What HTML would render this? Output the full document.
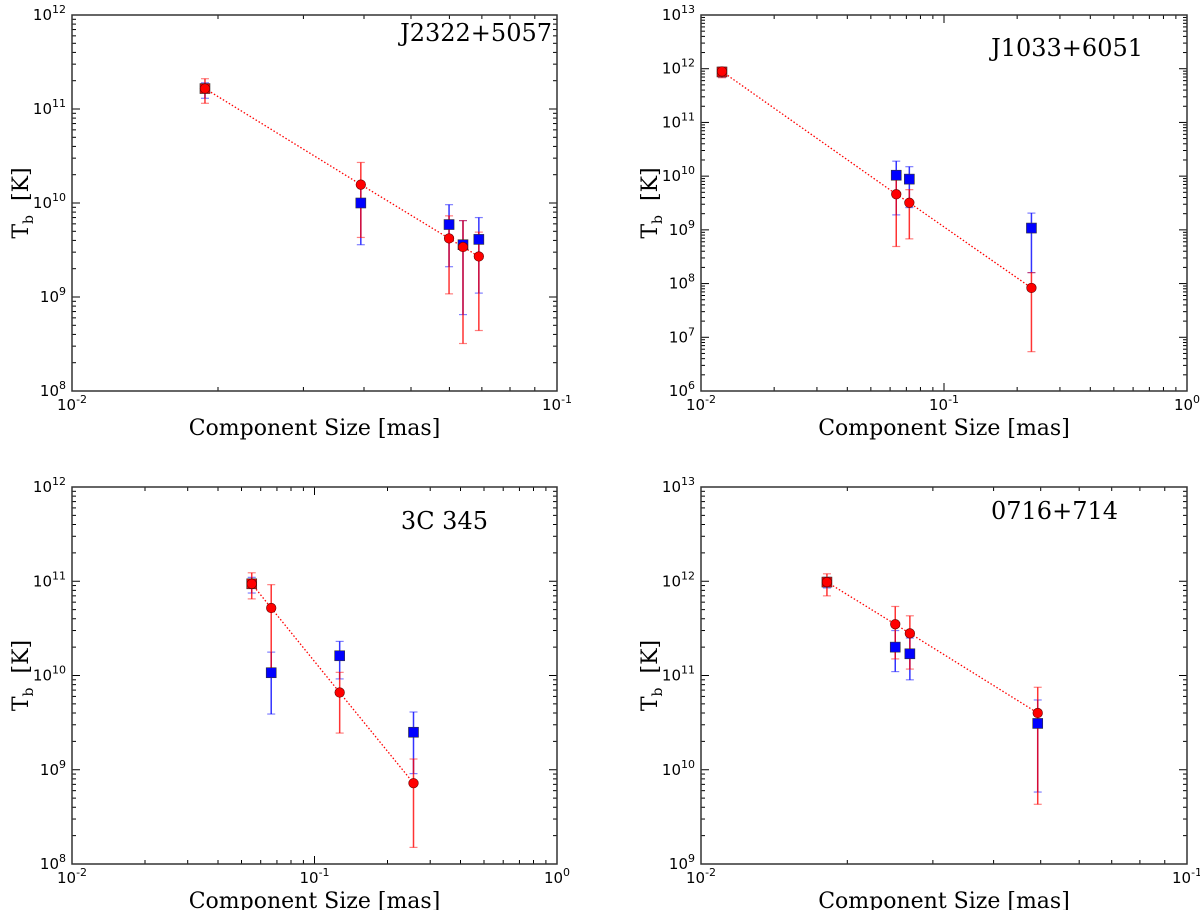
<!DOCTYPE html>
<html><head><meta charset="utf-8"><style>
html,body{margin:0;padding:0;background:#fff;}
svg{display:block;}
.tick{font-family:"DejaVu Sans","Liberation Sans",sans-serif;font-size:15px;fill:#000;}
.sup{font-size:11px;}
.title{font-family:"DejaVu Serif","Liberation Serif",serif;font-size:22px;fill:#000;}
.name{font-family:"DejaVu Serif","Liberation Serif",serif;font-size:24px;fill:#000;}
</style></head><body>
<svg id="fig" width="1200" height="910" viewBox="0 0 1200 910" xmlns="http://www.w3.org/2000/svg"></svg>
<script>
// ---- Panel data (x in mas, y in K) ----
const p1RedX = [0.0188, 0.0394, 0.0599, 0.064, 0.069];
const p1RedY = [1.65e11, 1.57e10, 4.2e9, 3.4e9, 2.7e9];
const p1RedHi = [2.1e11, 2.7e10, 7.3e9, 6.5e9, 4.9e9];
const p1RedLo = [1.15e11, 4.3e9, 1.08e9, 3.2e8, 4.4e8];
const p1BlueX = [0.0188, 0.0394, 0.0599, 0.064, 0.069];
const p1BlueY = [1.65e11, 1.0e10, 5.9e9, 3.6e9, 4.1e9];
const p1BlueHi = [1.9e11, 1.5e10, 9.6e9, 6.5e9, 7.0e9];
const p1BlueLo = [1.3e11, 3.6e9, 2.1e9, 6.5e8, 1.1e9];

const p2RedX = [0.0122, 0.0636, 0.072, 0.229];
const p2RedY = [8.9e11, 4.6e9, 3.2e9, 8.3e7];
const p2RedHi = [1.07e12, 1.0e10, 5.6e9, 1.6e8];
const p2RedLo = [6.8e11, 4.9e8, 6.8e8, 5.4e6];
const p2BlueX = [0.0122, 0.0636, 0.072, 0.229];
const p2BlueY = [8.7e11, 1.04e10, 8.8e9, 1.08e9];
const p2BlueHi = [1.0e12, 1.9e10, 1.5e10, 2.05e9];
const p2BlueLo = [7.0e11, 1.9e9, 2.6e9, 1.6e8];

const p3RedX = [0.0551, 0.0663, 0.127, 0.256];
const p3RedY = [9.4e10, 5.2e10, 6.6e9, 7.2e8];
const p3RedHi = [1.23e11, 9.2e10, 1.08e10, 1.3e9];
const p3RedLo = [6.5e10, 1.2e10, 2.45e9, 1.5e8];
const p3BlueX = [0.0551, 0.0663, 0.127, 0.256];
const p3BlueY = [9.4e10, 1.07e10, 1.62e10, 2.5e9];
const p3BlueHi = [1.1e11, 1.77e10, 2.3e10, 4.1e9];
const p3BlueLo = [7.5e10, 3.9e9, 9.2e9, 9.1e8];

const p4RedX = [0.01816, 0.0251, 0.0269, 0.0493];
const p4RedY = [9.8e11, 3.5e11, 2.8e11, 4.0e10];
const p4RedHi = [1.2e12, 5.4e11, 4.3e11, 7.5e10];
const p4RedLo = [7.0e11, 1.5e11, 1.17e11, 4.3e9];
const p4BlueX = [0.01816, 0.0251, 0.0269, 0.0493];
const p4BlueY = [9.8e11, 2.0e11, 1.7e11, 3.1e10];
const p4BlueHi = [1.1e12, 3.0e11, 2.5e11, 5.5e10];
const p4BlueLo = [8.5e11, 1.1e11, 9.0e10, 5.8e9];

const panelTitles = ["J2322+5057", "J1033+6051", "3C 345", "0716+714"];
const xDecades = [[-2, -1], [-2, 0], [-2, 0], [-2, -1]];
const yDecades = [[8, 12], [6, 13], [8, 12], [9, 13]];

const NS = "http://www.w3.org/2000/svg";
const fig = document.getElementById('fig');
function mk(tag, attrs, parent) {
  const e = document.createElementNS(NS, tag);
  for (const k in attrs) e.setAttribute(k, attrs[k]);
  (parent || fig).appendChild(e);
  return e;
}

const boxes = [
  {L: 72, R: 557, T: 15, B: 391, titleX: 552, titleY: 41, ylx: 18, xlY: 435},
  {L: 701, R: 1187, T: 15, B: 391, titleX: 1143, titleY: 56, ylx: 647, xlY: 435},
  {L: 72, R: 557, T: 487, B: 864, titleX: 488, titleY: 529, ylx: 18, xlY: 908},
  {L: 701, R: 1187, T: 487, B: 864, titleX: 1118, titleY: 519, ylx: 647, xlY: 908}
];
const series = [
  [p1RedX, p1RedY, p1RedHi, p1RedLo, p1BlueX, p1BlueY, p1BlueHi, p1BlueLo],
  [p2RedX, p2RedY, p2RedHi, p2RedLo, p2BlueX, p2BlueY, p2BlueHi, p2BlueLo],
  [p3RedX, p3RedY, p3RedHi, p3RedLo, p3BlueX, p3BlueY, p3BlueHi, p3BlueLo],
  [p4RedX, p4RedY, p4RedHi, p4RedLo, p4BlueX, p4BlueY, p4BlueHi, p4BlueLo]
];

boxes.forEach((b, i) => {
  const g = mk('g', {});
  
  
  const [x0, x1] = xDecades[i], [y0, y1] = yDecades[i];
  const sx = v => b.L + (Math.log10(v) - x0) / (x1 - x0) * (b.R - b.L);
  const sy = v => b.B - (Math.log10(v) - y0) / (y1 - y0) * (b.B - b.T);

  const tg = mk('g', {stroke: '#000', 'stroke-width': 1}, g);
  
  
  for (let d = x0; d <= x1; d++) {
    for (let m = 1; m <= 9; m++) {
      if (d === x1 && m > 1) break;
      const x = sx(m * Math.pow(10, d));
      const len = m === 1 ? 8 : 4;
      mk('line', {x1: x, x2: x, y1: b.B, y2: b.B - len}, tg);
      mk('line', {x1: x, x2: x, y1: b.T, y2: b.T + len}, tg);
    }
    const t = mk('text', {x: sx(Math.pow(10, d)), y: b.B + 19, 'text-anchor': 'middle', class: 'tick'}, g);
    
    
    t.innerHTML = '10<tspan class="sup" dy="-7">' + d + '</tspan>';
  }
  for (let d = y0; d <= y1; d++) {
    for (let m = 1; m <= 9; m++) {
      if (d === y1 && m > 1) break;
      const y = sy(m * Math.pow(10, d));
      const len = m === 1 ? 8 : 4;
      mk('line', {x1: b.L, x2: b.L + len, y1: y, y2: y}, tg);
      mk('line', {x1: b.R, x2: b.R - len, y1: y, y2: y}, tg);
    }
    const t = mk('text', {x: b.L - 6, y: sy(Math.pow(10, d)) + 5, 'text-anchor': 'end', class: 'tick'}, g);
    
    
    t.innerHTML = '10<tspan class="sup" dy="-7">' + d + '</tspan>';
  }
  const frame = mk('rect', {x: b.L, y: b.T, width: b.R - b.L, height: b.B - b.T, fill: 'none', stroke: '#333', 'stroke-width': 1.5}, g);
  
  

  const [rx, ry, rhi, rlo, bx, by, bhi, blo] = series[i];

  const pts = rx.map((v, k) => sx(v) + ',' + sy(ry[k])).join(' ');
  const line = mk('polyline', {points: pts, fill: 'none', stroke: '#f00', 'stroke-width': 1.3, 'stroke-dasharray': '1.5,2'}, g);
  
  

  function errbar(x, hi, lo, col, nm) {
    const eg = mk('g', {stroke: col}, g);
    
    
    mk('line', {x1: x, x2: x, y1: sy(hi), y2: sy(lo), 'stroke-width': 1.5, 'stroke-opacity': 0.8}, eg);
    mk('line', {x1: x - 4, x2: x + 4, y1: sy(hi), y2: sy(hi), 'stroke-width': 1.2, 'stroke-opacity': 0.5}, eg);
    mk('line', {x1: x - 4, x2: x + 4, y1: sy(lo), y2: sy(lo), 'stroke-width': 1.2, 'stroke-opacity': 0.5}, eg);
  }
  bx.forEach((v, k) => errbar(sx(v), bhi[k], blo[k], '#00f', 'blue-error-bar'));
  rx.forEach((v, k) => errbar(sx(v), rhi[k], rlo[k], '#f00', 'red-error-bar'));
  bx.forEach((v, k) => {
    const col = k === 0 ? '#e00' : '#00f';
    const s = mk('rect', {x: sx(v) - 5, y: sy(by[k]) - 5, width: 10, height: 10, fill: col, stroke: '#333', 'stroke-width': 0.6}, g);
    
    
  });
  rx.forEach((v, k) => {
    const c = mk('circle', {cx: sx(v), cy: sy(ry[k]), r: 4.8, fill: '#f00', stroke: '#600', 'stroke-width': 0.6}, g);
    
    
  });

  const tt = mk('text', {x: b.titleX, y: b.titleY, 'text-anchor': 'end', class: 'name'}, g);
  
  
  tt.textContent = panelTitles[i];

  const xl = mk('text', {x: (b.L + b.R) / 2, y: b.xlY, 'text-anchor': 'middle', class: 'title'}, g);
  
  
  xl.textContent = 'Component Size [mas]';

  const cy = (b.T + b.B) / 2;
  const yl = mk('text', {x: b.ylx, y: cy + 10, 'text-anchor': 'middle', class: 'title', transform: 'rotate(-90 ' + b.ylx + ' ' + cy + ')'}, g);
  
  
  yl.innerHTML = 'T<tspan font-size="14" dy="5">b</tspan><tspan dy="-5">&#160; [K]</tspan>';
});
</script>
</body></html>
